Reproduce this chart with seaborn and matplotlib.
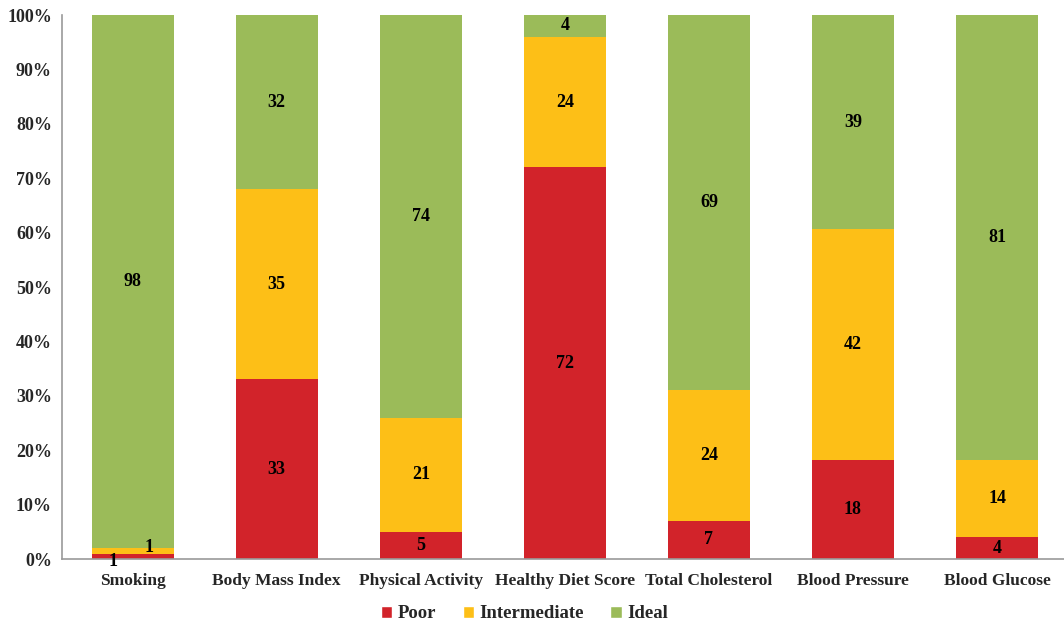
import numpy as np
import pandas as pd
import seaborn as sns
import matplotlib.pyplot as plt
from matplotlib.patches import Patch

categories = ["Smoking", "Body Mass Index", "Physical Activity", "Healthy Diet Score",
              "Total Cholesterol", "Blood Pressure", "Blood Glucose"]
poor = [1, 33, 5, 72, 7, 18, 4]
intermediate = [1, 35, 21, 24, 24, 42, 14]
ideal = [98, 32, 74, 4, 69, 39, 81]

series_names = ["Poor", "Intermediate", "Ideal"]
colors = ["#D2232A", "#FDBF17", "#9BBB59"]

sns.set_style("white")
plt.rcParams["font.family"] = ["Liberation Serif", "DejaVu Serif"]
plt.rcParams["font.weight"] = "bold"

df = pd.DataFrame({"category": categories, "Poor": poor,
                   "Intermediate": intermediate, "Ideal": ideal})
total = df[series_names].sum(axis=1)
for s in series_names:
    df[s + "_pct"] = df[s] / total * 100
df["cum_poor"] = df["Poor_pct"]
df["cum_inter"] = df["Poor_pct"] + df["Intermediate_pct"]
df["cum_ideal"] = df["cum_inter"] + df["Ideal_pct"]

fig = plt.figure(figsize=(10.64, 6.25), dpi=100)
ax = fig.add_axes([0.058, 0.1056, 0.942, 0.8704])

# stacked bars drawn back to front
for col, c in zip(["cum_ideal", "cum_inter", "cum_poor"], colors[::-1]):
    sns.barplot(data=df, x="category", y=col, color=c, width=0.57,
                saturation=1, ax=ax, errorbar=None, linewidth=0)

# value labels in segment centres
offsets = {(0, "Poor"): (-0.14, -0.9), (0, "Intermediate"): (0.11, 0.6)}
for i in range(len(df)):
    bottom = 0
    for s in series_names:
        h = df.loc[i, s + "_pct"]
        dx, dy = offsets.get((i, s), (0, 0))
        ax.text(i + dx, bottom + h / 2 + dy, str(df.loc[i, s]), ha="center",
                va="center", fontsize=13, fontweight="bold", color="black")
        bottom += h

ax.set_xlim(-0.493, 6.465)
ax.set_ylim(0, 100)
ax.set_yticks(np.arange(0, 101, 10))
ax.set_yticklabels([f"{v}%" for v in range(0, 101, 10)], fontsize=13, fontweight="bold")
ax.set_xticks(range(len(categories)))
ax.set_xticklabels(categories, fontsize=12.5, fontweight="bold")
ax.tick_params(axis="x", length=0, pad=10)
ax.tick_params(axis="y", length=0, pad=7)
ax.set_xlabel("")
ax.set_ylabel("")
for sp in ["top", "right"]:
    ax.spines[sp].set_visible(False)
for sp in ["left", "bottom"]:
    ax.spines[sp].set_color("#9a9a9a")
    ax.spines[sp].set_linewidth(1.2)

handles = [Patch(facecolor=c, label=n) for c, n in zip(colors, series_names)]
fig.legend(handles=handles, loc="center", bbox_to_anchor=(0.493, 0.018), ncol=3,
           frameon=False, handlelength=0.6, handleheight=0.6, handletextpad=0.3,
           columnspacing=1.4, prop={"weight": "bold", "size": 13.5})

fig.savefig("out.png", dpi=100)
